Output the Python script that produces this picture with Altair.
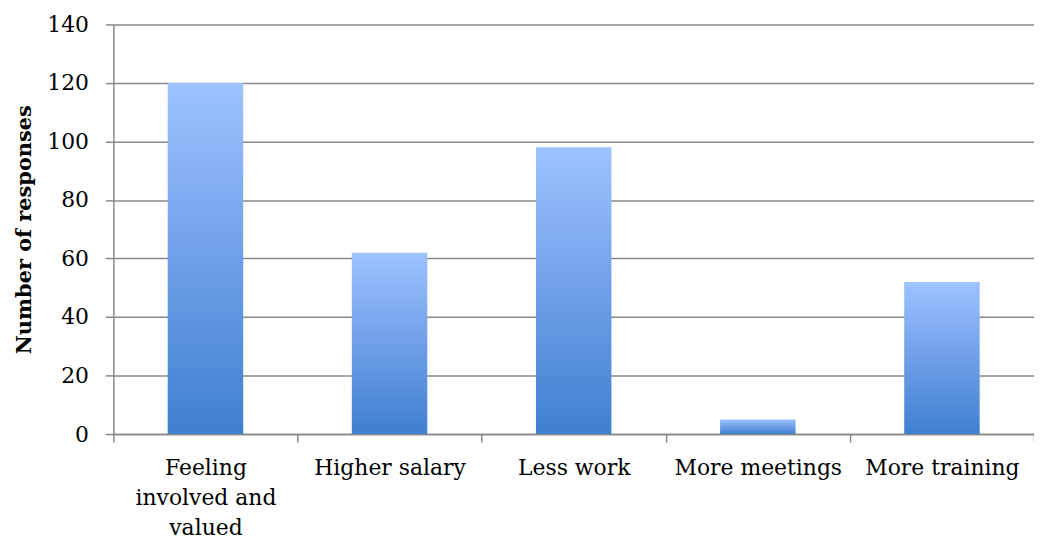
import altair as alt
import pandas as pd

categories = ["Feeling involved and valued", "Higher salary", "Less work", "More meetings", "More training"]
values = [120, 62, 98, 5, 52]

df = pd.DataFrame({"category": categories, "responses": values})

FONT = "DejaVu Serif"

grad = alt.Gradient(
    gradient="linear",
    stops=[alt.GradientStop(color="#9dc3ff", offset=0),
           alt.GradientStop(color="#6f9fe8", offset=0.5),
           alt.GradientStop(color="#3f80d0", offset=1)],
    x1=0, x2=0, y1=0, y2=1,
)

chart = alt.Chart(df).mark_bar(color=grad, width=alt.RelativeBandSize(0.41)).encode(
    x=alt.X("category:N", sort=categories, title=None,
            scale=alt.Scale(paddingInner=0, paddingOuter=0),
            axis=alt.Axis(labelAngle=0, tickBand="extent", ticks=True, tickSize=8,
                          tickColor="#888888", tickWidth=1.5, domainColor="#888888",
                          domainWidth=1.5, labelFont=FONT, labelFontSize=22,
                          labelColor="#000000", labelPadding=16, labelLineHeight=30,
                          labelBaseline="top", labelLimit=300,
                          labelExpr="datum.label == 'Feeling involved and valued' ? ['Feeling', 'involved and', 'valued'] : datum.label")),
    y=alt.Y("responses:Q", title="Number of responses",
            scale=alt.Scale(domain=[0, 140], nice=False),
            axis=alt.Axis(values=[0, 20, 40, 60, 80, 100, 120, 140], grid=True,
                          gridColor="#888888", gridWidth=1.5, tickSize=8,
                          tickColor="#888888", tickWidth=1.5, domainColor="#888888",
                          domainWidth=1.5, labelFont=FONT, labelFontSize=22,
                          labelColor="#000000", labelPadding=17,
                          titleFont=FONT, titleFontSize=21, titleFontWeight="bold",
                          titleColor="#000000", titlePadding=12)),
).properties(
    width=926, height=412,
    autosize=alt.AutoSizeParams(type="none"),
    padding={"left": 106, "top": 15, "right": 0, "bottom": 100},
).configure_view(stroke=None)

chart.save("out.html", embed_options={"renderer": "svg", "actions": False})
